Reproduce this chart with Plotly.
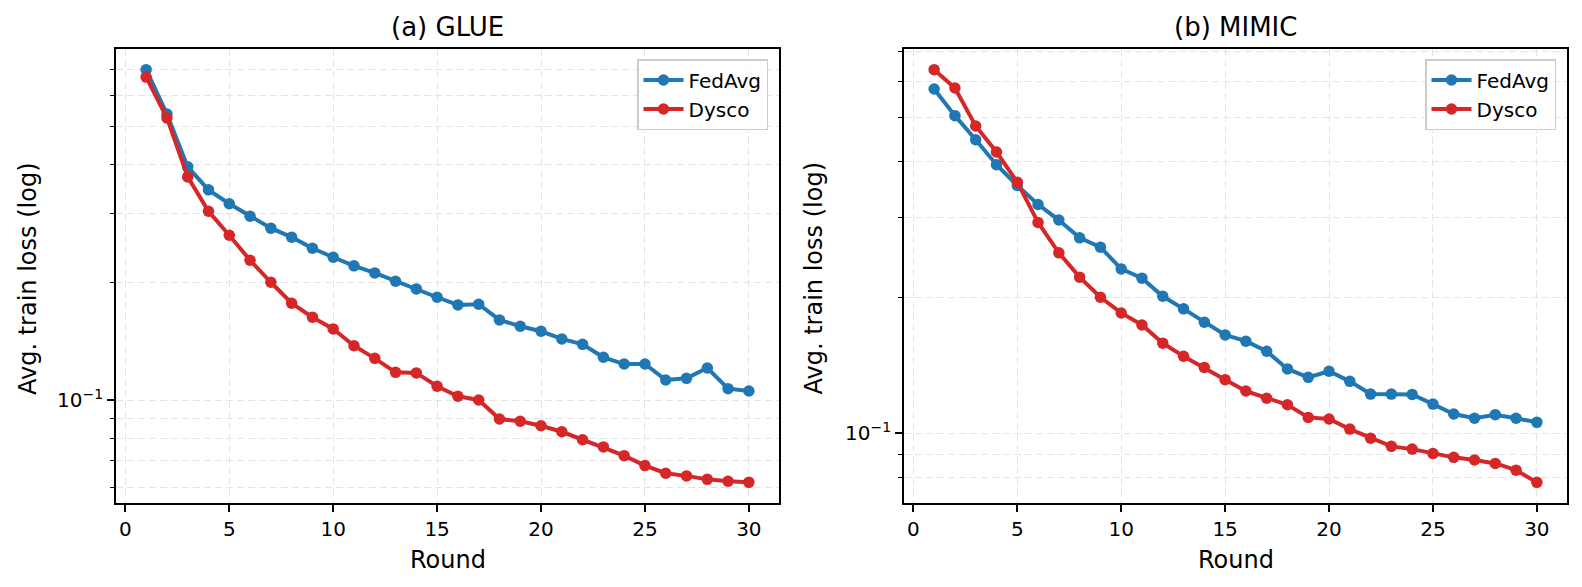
import numpy as np
import plotly.graph_objects as go

rounds = list(range(1, 31))

glue_fedavg = [0.700, 0.539, 0.395, 0.345, 0.318, 0.2955, 0.2754, 0.2612, 0.2447, 0.2321,
               0.2206, 0.2116, 0.2015, 0.1926, 0.1834, 0.1753, 0.1760, 0.1605, 0.1546, 0.1501,
               0.1435, 0.1390, 0.1288, 0.1238, 0.1238, 0.1127, 0.1138, 0.1209, 0.1071, 0.1056]
glue_dysco = [0.670, 0.527, 0.3724, 0.3043, 0.2642, 0.228, 0.2003, 0.177, 0.1631, 0.1522,
              0.1379, 0.1280, 0.1179, 0.1175, 0.1086, 0.1024, 0.1002, 0.0896, 0.0884, 0.0861,
              0.0831, 0.0793, 0.0760, 0.0722, 0.0681, 0.0651, 0.0641, 0.0628, 0.0621, 0.0617]

mimic_fedavg = [0.579, 0.5054, 0.4469, 0.3935, 0.354, 0.3213, 0.2968, 0.271, 0.2585, 0.2313,
                0.2207, 0.2012, 0.1887, 0.1763, 0.1652, 0.1600, 0.1520, 0.1389, 0.1331, 0.1373,
                0.1304, 0.1222, 0.1222, 0.1220, 0.1161, 0.1104, 0.1080, 0.1100, 0.1080, 0.1058]
mimic_dysco = [0.639, 0.582, 0.4795, 0.4198, 0.360, 0.2931, 0.2511, 0.2218, 0.2002, 0.1848,
               0.1738, 0.1584, 0.1482, 0.1400, 0.1315, 0.1241, 0.1196, 0.1157, 0.1085, 0.1076,
               0.1022, 0.0976, 0.0936, 0.0923, 0.0903, 0.0885, 0.0873, 0.0858, 0.0829, 0.0779]

x_ticks = [0, 5, 10, 15, 20, 25, 30]
major_y = [0.1]
major_y_text = ["10<sup>\u22121</sup>"]
minor_y = [0.05, 0.06, 0.07, 0.08, 0.09, 0.2, 0.3, 0.4, 0.5, 0.6, 0.7, 0.8, 0.9]

panel_titles = ["(a) GLUE", "(b) MIMIC"]
series_names = ["FedAvg", "Dysco"]
colors = ["#1f77b4", "#d62728"]

W, H = 1582, 587
FONT = "DejaVu Sans"

def log_range(vals_list):
    lo = min(min(v) for v in vals_list)
    hi = max(max(v) for v in vals_list)
    a, b = np.log10(lo), np.log10(hi)
    m = 0.05 * (b - a)
    return [a - m, b + m]

def x_range(xs):
    m = 0.05 * (max(xs) - min(xs))
    return [min(xs) - m, max(xs) + m]

fig = go.Figure()

panels = [(glue_fedavg, glue_dysco), (mimic_fedavg, mimic_dysco)]
x_domains = [[116 / W, 779 / W], [904 / W, 1567 / W]]
y_domain = [1 - 503 / H, 1 - 49 / H]
legend_names = ["legend", "legend2"]

for i, (fa, dy) in enumerate(panels):
    xa = "x" if i == 0 else "x2"
    ya = "y" if i == 0 else "y2"
    for name, vals, col in zip(series_names, [fa, dy], colors):
        fig.add_trace(go.Scatter(
            x=rounds, y=vals, mode="lines+markers", name=name,
            line=dict(color=col, width=4),
            marker=dict(color=col, size=11.5, symbol="circle"),
            xaxis=xa, yaxis=ya, legend=legend_names[i],
        ))

grid_common = dict(showgrid=True, gridcolor="#e4e4e4", gridwidth=1, griddash="7px,4px")

for i in range(2):
    sfx = "" if i == 0 else "2"
    fa, dy = panels[i]
    fig.layout["xaxis" + sfx] = dict(
        domain=x_domains[i], anchor="y" + sfx, range=x_range(rounds),
        tickmode="array", tickvals=x_ticks, ticks="outside", ticklen=7, tickwidth=1.5,
        tickcolor="black", showline=True, mirror=True, linecolor="black", linewidth=1.6,
        zeroline=False, tickfont=dict(size=20, color="black", family=FONT), **grid_common,
    )
    fig.layout["yaxis" + sfx] = dict(
        domain=y_domain, anchor="x" + sfx, type="log", range=log_range([fa, dy]),
        tickmode="array", tickvals=major_y, ticktext=major_y_text,
        ticks="outside", ticklen=7, tickwidth=1.5, tickcolor="black",
        showline=True, mirror=True, linecolor="black", linewidth=1.6, zeroline=False,
        tickfont=dict(size=20, color="black", family=FONT), **grid_common,
        minor=dict(tickmode="array", tickvals=minor_y, ticks="outside", ticklen=4,
                   tickwidth=1.2, tickcolor="black", showgrid=True, gridcolor="#e4e4e4",
                   gridwidth=1, griddash="7px,4px"),
    )

legend_common = dict(
    xanchor="right", yanchor="top", bgcolor="rgba(255,255,255,0.85)",
    bordercolor="#cccccc", borderwidth=1.5,
    font=dict(size=20, color="black", family=FONT), tracegroupgap=0,
    itemwidth=40, entrywidth=95, entrywidthmode="pixels",
)
fig.update_layout(
    legend=dict(x=768 / W, y=1 - 59 / H, **legend_common),
    legend2=dict(x=1556 / W, y=1 - 59 / H, **legend_common),
)

annotations = []
centers = [(116 + 779) / 2, (904 + 1567) / 2]
ylab_x = [27.5, 813]
for i in range(2):
    annotations.append(dict(text=panel_titles[i], x=centers[i] / W, y=1 - 27.5 / H,
                            xref="paper", yref="paper", showarrow=False,
                            xanchor="center", yanchor="middle",
                            font=dict(size=26, color="black", family=FONT)))
    annotations.append(dict(text="Round", x=centers[i] / W, y=1 - 560 / H,
                            xref="paper", yref="paper", showarrow=False,
                            xanchor="center", yanchor="middle",
                            font=dict(size=24, color="black", family=FONT)))
    annotations.append(dict(text="Avg. train loss (log)", x=ylab_x[i] / W, y=1 - 278.5 / H,
                            xref="paper", yref="paper", showarrow=False, textangle=-90,
                            xanchor="center", yanchor="middle",
                            font=dict(size=24, color="black", family=FONT)))

fig.update_layout(
    width=W, height=H, margin=dict(l=0, r=0, t=0, b=0),
    paper_bgcolor="white", plot_bgcolor="white",
    font=dict(family=FONT, color="black"),
    annotations=annotations, showlegend=True,
)

fig.write_html("out.html")
